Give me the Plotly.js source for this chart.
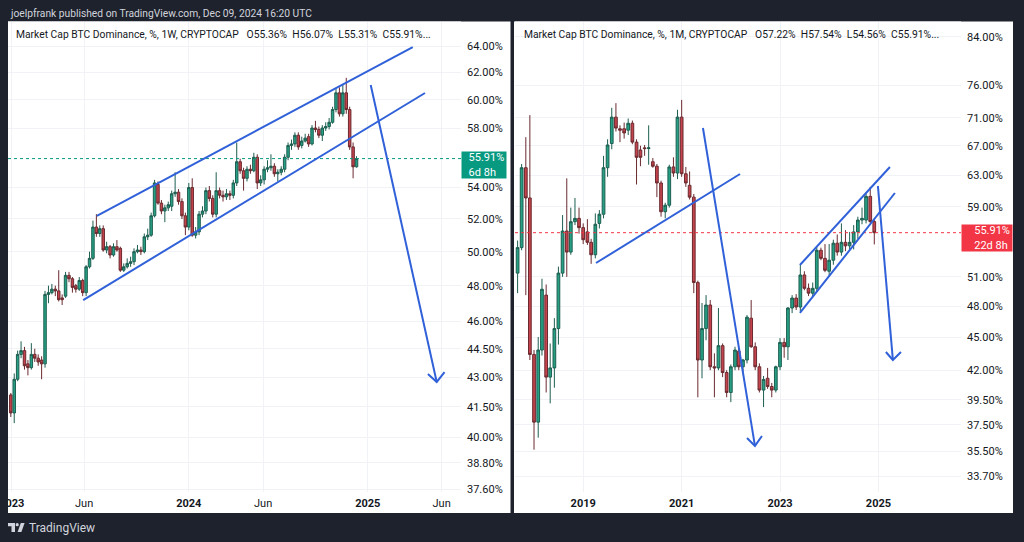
<!DOCTYPE html>
<html><head><meta charset="utf-8">
<script src="https://cdn.plot.ly/plotly-3.0.1.min.js"></script>
<style>html,body{margin:0;padding:0;background:#1e222d;overflow:hidden}#chart{width:1024px;height:542px}</style>
</head><body><div id="chart"></div>
<script>
// ================= DATA =================
// Weekly candles, BTC dominance %, first week starting 2023-01-02
const weeklyStart = '2023-01-02';
const weeklyOpen = [42.1,41.2,42.9,44.2,44.4,43.7,43.5,44.2,44.0,43.9, 43.7,47.5,47.6,47.8,47.7,47.3,47.4,48.6,48.4,48.0, 47.8,48.3,47.6,49.1,49.6,51.5,51.1,51.4,50.1,50.3, 49.8,50.3,50.2,48.9,49.1,49.3,49.4,50.0,50.1,50.0, 50.9,51.0,52.2,54.2,53.0,52.5,52.7,52.8,53.6,53.7, 53.1,52.2,51.5,54.0,51.0,51.2,52.3,52.5,53.8,53.3, 52.3,53.8,53.5,53.4,53.6,53.5,54.3,55.7,55.1,54.6, 55.2,55.1,56.0,54.3,54.5,55.2,55.3,55.4,54.9,55.0, 55.2,56.0,56.8,56.9,57.5,56.8,57.1,57.4,56.9,58.0, 57.9,57.5,58.0,58.1,58.4,59.3,60.5,59.0,60.5,59.3, 56.7,55.36];
const weeklyHigh = [42.2,43.2,44.4,44.9,44.6,43.9,44.8,44.5,44.2,44.1, 47.7,48.0,48.1,48.0,48.9,47.5,48.8,48.8,48.5,48.1, 48.5,48.4,49.2,50.0,51.9,52.3,51.6,51.6,50.6,50.4, 50.5,50.7,50.3,49.3,49.6,49.7,50.2,50.4,50.3,51.1, 51.4,52.4,54.5,54.4,53.2,52.9,53.1,53.8,55.0,53.9, 53.3,52.4,54.3,54.6,51.5,52.5,52.8,54.0,54.1,53.5, 55.0,54.0,53.8,53.9,53.8,54.5,57.0,55.9,55.3,55.4, 55.5,56.3,56.2,54.8,55.4,55.8,56.2,55.6,55.2,55.4, 56.2,57.0,57.2,57.7,57.7,57.4,57.6,57.6,58.2,58.5, 58.1,58.2,58.4,58.7,59.5,60.8,60.9,61.1,61.6,59.5, 57.0,56.07];
const weeklyLow = [41.0,40.7,42.8,44.0,43.4,43.1,43.4,43.8,43.6,42.9, 43.5,47.0,47.5,47.4,47.1,46.9,47.3,48.2,47.6,47.6, 47.7,47.4,47.4,49.0,49.5,50.9,50.9,50.0,49.9,49.6, 49.7,50.0,48.8,48.8,49.0,49.1,49.2,49.9,49.8,49.9, 50.7,50.9,52.1,52.9,52.3,51.8,52.5,52.5,53.4,52.9, 52.0,51.0,51.3,50.9,50.8,51.0,52.1,52.3,53.1,52.1, 52.1,53.3,53.1,53.2,53.2,53.3,54.1,54.9,53.8,54.4, 54.9,55.0,53.9,54.1,54.2,55.0,55.1,54.7,54.4,54.8, 55.0,55.8,56.5,56.7,56.5,56.6,57.0,56.7,56.8,57.7, 57.3,57.1,57.8,57.9,58.3,59.1,58.8,58.8,59.0,56.5, 54.6,55.31];
const weeklyClose = [41.2,42.9,44.2,44.4,43.6,43.5,44.2,44.0,43.8,43.7, 47.5,47.6,47.8,47.7,47.2,47.2,48.6,48.4,47.9,47.8, 48.3,47.6,49.1,49.6,51.5,51.1,51.4,50.1,50.3,49.8, 50.3,50.1,48.9,49.1,49.3,49.4,50.0,50.1,50.0,50.9, 51.0,52.2,54.3,53.0,52.5,52.7,52.9,53.6,53.7,53.1, 52.2,51.5,54.0,51.0,51.2,52.3,52.5,53.8,53.3,52.3, 53.8,53.5,53.4,53.6,53.5,54.3,55.7,55.1,54.6,55.2, 55.1,56.0,54.3,54.5,55.2,55.3,55.4,54.9,55.0,55.2, 56.0,56.8,56.9,57.5,56.7,57.1,57.3,56.9,58.0,57.9, 57.5,58.0,58.1,58.4,59.3,60.5,59.0,60.5,59.3,56.7, 55.36,55.91];

// Monthly candles, first month 2017-09
const monthlyStart = '2017-09';
const monthlyOpen = [51.4,54.2,64.0,60.1, 43.4,37.7,43.8,49.1,41.4,42.2,45.8,51.4,56.1,53.7,57.2,57.6, 56.5,56.0,54.8,53.4,57.0,58.1,64.0,67.3,71.1,69.4,69.4,69.2, 70.2,67.5,66.4,66.7,66.6,64.8,64.2,62.0,58.4,59.2,64.1,63.3, 71.1,63.2,61.7,60.2,50.4,42.9,45.8,48.1,42.3,42.2,44.2,41.8, 40.1,42.3,43.7,42.3,42.9,46.8,44.1,42.3,40.3,41.3,40.6,40.3, 42.3,44.5,44.1,47.8,48.8,47.9,51.2,49.8,49.3,49.8,53.9,53.0, 51.6,52.8,54.7,53.7,54.8,54.4,54.8,56.0,57.4,57.4,60.3,57.22];
const monthlyHigh = [55.0,64.5,68.2,71.4, 43.8,45.0,50.8,50.2,44.4,46.8,52.1,58.0,62.6,58.9,60.1,58.9, 57.0,57.5,55.2,58.2,58.6,65.6,67.9,72.5,73.2,69.9,70.3,70.9, 70.6,67.9,67.0,67.1,69.9,65.3,64.5,62.3,59.5,64.4,65.4,72.2, 73.7,64.1,63.5,60.6,50.6,48.3,49.1,48.6,43.5,47.8,44.4,42.0, 42.5,44.1,44.0,43.0,47.1,48.6,44.5,42.6,41.5,42.2,40.9,42.4, 44.9,44.9,47.9,49.1,49.2,52.3,51.6,50.3,50.4,54.3,54.2,54.6, 54.6,55.1,55.7,57.0,56.2,56.0,56.8,57.8,58.9,60.7,61.5,57.54];
const monthlyLow = [49.3,53.9,49.1,42.9, 35.6,36.5,43.3,40.1,39.2,40.5,44.3,51.0,51.0,53.4,56.8,55.8, 54.6,54.5,52.4,53.0,56.4,57.6,62.8,66.5,69.0,67.5,68.0,68.5, 67.2,61.8,64.2,65.6,64.4,64.0,60.2,57.8,57.6,58.9,62.8,62.5, 62.8,61.5,59.9,49.3,39.7,41.3,44.7,42.0,39.7,42.0,41.4,39.7, 39.3,42.0,42.0,41.8,42.6,44.0,42.0,40.1,38.9,40.4,39.7,40.1, 42.0,43.1,42.9,47.3,47.6,47.5,49.6,49.0,49.0,49.5,52.8,51.5, 51.0,52.3,53.3,53.3,53.8,53.9,54.0,55.2,56.9,57.0,57.0,54.56];
const monthlyClose = [54.2,64.0,60.1,43.4, 37.7,43.8,49.7,41.4,42.2,45.8,51.4,56.1,53.7,57.2,57.6,56.5, 55.1,54.8,53.4,56.9,58.1,64.0,67.1,71.1,69.5,69.2,68.8,70.2, 67.5,65.4,65.4,66.6,66.7,64.2,62.0,58.4,59.2,64.1,63.3,71.1, 63.2,62.0,60.2,50.4,42.9,45.8,48.1,42.3,42.2,44.2,41.8,40.1, 42.3,43.8,42.3,42.9,46.9,44.1,42.3,40.3,41.2,40.6,40.3,42.3, 44.5,44.1,47.8,48.8,47.9,51.2,49.8,49.3,49.8,53.9,53.0,51.7, 52.8,54.7,53.7,54.8,54.4,54.8,56.0,57.4,57.6,60.3,57.22,55.91];

// Axis ticks
const leftPriceTicks = [64,62,60,58,54,52,50,48,46,44.5,43,41.5,40,38.8,37.6];
const rightPriceTicks = [84,76,71,67,63,59,51,48,45,42,39.5,37.5,35.5,33.7];
const leftTimeTicks = ['2023-01-04','2023-06-01','2024-01-01','2024-06-01','2025-01-01','2025-06-01'];
const leftTimeLabels = ['2023','Jun','2024','Jun','2025','Jun'];
const rightTimeTicks = ['2019-01-01','2021-01-01','2023-01-01','2025-01-01'];
const rightTimeLabels = ['2019','2021','2023','2025'];
const leftCountdown = '6d 8h';
const rightCountdown = '22d 8h';

// Hand-drawn trend lines / arrows (date, value)
const leftChannelTopX = ['2023-06-27','2025-04-03'], leftChannelTopY = [52.19,63.92];
const leftChannelBotX = ['2023-05-30','2025-04-28'], leftChannelBotY = [47.18,60.49];
const leftArrowX = ['2025-01-07','2025-05-22'], leftArrowY = [61.07,42.76];
const leftHeadX = ['2025-05-04','2025-05-22','2025-06-07'], leftHeadY = [43.17,42.76,43.27];
const rightSupportX = ['2019-04-06','2022-03-10'], rightSupportY = [52.49,63.17];
const rightArrow1X = ['2021-06-08','2022-06-29'], rightArrow1Y = [69.51,35.88];
const rightHead1X = ['2022-05-01','2022-06-29','2022-08-20'], rightHead1Y = [36.48,35.88,36.63];
const rightChannelTopX = ['2023-05-29','2025-03-27'], rightChannelTopY = [52.28,64.09];
const rightChannelBotX = ['2023-05-29','2025-05-03'], rightChannelBotY = [47.31,60.72];
const rightArrow2X = ['2024-12-28','2025-04-18'], rightArrow2Y = [61.61,42.90];
const rightHead2X = ['2025-02-25','2025-04-18','2025-06-17'], rightHead2Y = [43.62,42.90,43.62];

// ================= BUILD =================
const W = 1024, H = 542, DAY = 864e5;
const BG = '#1e222d', GRID = '#f0f2f6', TXT = '#131722', BLUE = '#3061d9';
const FONT = 'Roboto, "Liberation Sans", Arial, sans-serif';
const px = x => x / W, py = y => 1 - y / H;

function weeklyDates(start, n) {
  const t0 = Date.parse(start + 'T00:00:00Z'), out = [];
  for (let i = 0; i < n; i++) out.push(new Date(t0 + i * 7 * DAY).toISOString().slice(0, 10));
  return out;
}
function monthlyDates(start, n) {
  const [y, m] = start.split('-').map(Number), out = [];
  for (let i = 0; i < n; i++) {
    const mm = m - 1 + i, yy = y + Math.floor(mm / 12), mo = mm % 12 + 1;
    out.push(yy + '-' + String(mo).padStart(2, '0') + '-01');
  }
  return out;
}
const dstr = ms => new Date(ms).toISOString().replace('T', ' ').slice(0, 19);

const wDates = weeklyDates(weeklyStart, weeklyClose.length);
const mDates = monthlyDates(monthlyStart, monthlyClose.length);

// pixel layout of the two panes
const L_X0 = 8, L_X1 = 461, R_X0 = 515, R_X1 = 961, Y_TOP = 21.5, Y_BOT = 492;
const L_ANCHOR = Date.UTC(2024, 0, 1), L_APX = 188.8, L_PPD = 0.489;
const R_ANCHOR = Date.UTC(2019, 0, 1), R_APX = 583.2, R_PPD = 0.1347;
const leftRange = [dstr(L_ANCHOR - (L_APX - L_X0) / L_PPD * DAY), dstr(L_ANCHOR + (L_X1 - L_APX) / L_PPD * DAY)];
const rightRange = [dstr(R_ANCHOR - (R_APX - R_X0) / R_PPD * DAY), dstr(R_ANCHOR + (R_X1 - R_APX) / R_PPD * DAY)];

const candleStyle = {
  increasing: { line: { color: '#1d5e50', width: 1 }, fillcolor: '#26a085' },
  decreasing: { line: { color: '#6a2a2f', width: 1 }, fillcolor: '#c4434c' },
  whiskerwidth: 0, hoverinfo: 'skip'
};
const lineTrace = (x, y, xa, ya) => ({ type: 'scatter', mode: 'lines', x, y, xaxis: xa, yaxis: ya,
  line: { color: BLUE, width: 2 }, hoverinfo: 'skip' });

const wLast = weeklyClose.length - 1, mLast = monthlyClose.length - 1;
const data = [
  Object.assign({ type: 'candlestick', x: wDates, open: weeklyOpen, high: weeklyHigh, low: weeklyLow, close: weeklyClose, xaxis: 'x', yaxis: 'y' }, candleStyle),
  Object.assign({ type: 'candlestick', x: mDates, open: monthlyOpen, high: monthlyHigh, low: monthlyLow, close: monthlyClose, xaxis: 'x2', yaxis: 'y2' }, candleStyle),
  { type: 'scatter', mode: 'lines', x: leftRange, y: [weeklyClose[wLast], weeklyClose[wLast]], xaxis: 'x', yaxis: 'y', line: { color: '#089981', width: 1, dash: 'dot' }, hoverinfo: 'skip' },
  { type: 'scatter', mode: 'lines', x: rightRange, y: [monthlyClose[mLast], monthlyClose[mLast]], xaxis: 'x2', yaxis: 'y2', line: { color: '#f23645', width: 1, dash: 'dot' }, hoverinfo: 'skip' },
  lineTrace(leftChannelTopX, leftChannelTopY, 'x', 'y'),
  lineTrace(leftChannelBotX, leftChannelBotY, 'x', 'y'),
  lineTrace(leftArrowX, leftArrowY, 'x', 'y'),
  lineTrace(leftHeadX, leftHeadY, 'x', 'y'),
  lineTrace(rightSupportX, rightSupportY, 'x2', 'y2'),
  lineTrace(rightArrow1X, rightArrow1Y, 'x2', 'y2'),
  lineTrace(rightHead1X, rightHead1Y, 'x2', 'y2'),
  lineTrace(rightChannelTopX, rightChannelTopY, 'x2', 'y2'),
  lineTrace(rightChannelBotX, rightChannelBotY, 'x2', 'y2'),
  lineTrace(rightArrow2X, rightArrow2Y, 'x2', 'y2'),
  lineTrace(rightHead2X, rightHead2Y, 'x2', 'y2')
];

const axFont = { family: FONT, size: 11, color: TXT };
const bold = s => (/^\d{4}$/.test(s) ? '<b>' + s + '</b>' : s);
const pct = v => v.toFixed(2) + '%';
const xBase = { type: 'date', rangeslider: { visible: false }, tickmode: 'array', showgrid: true, gridcolor: GRID,
  zeroline: false, showline: false, ticks: '', tickfont: axFont, ticklabelstandoff: 3, ticklabeloverflow: 'allow', fixedrange: true };
const yBase = { type: 'log', side: 'right', tickmode: 'array', showgrid: true, gridcolor: GRID, zeroline: false,
  showline: false, ticks: '', tickfont: axFont, ticklabelstandoff: 5, fixedrange: true };

const legendText = (tf, o, h, l, c) =>
  'Market Cap BTC Dominance, %, ' + tf + ', CRYPTOCAP\u2002 O' + pct(o) + '\u2002H' + pct(h) + '\u2002L' + pct(l) + '\u2002C' + pct(c) + '...';

const logoT = `M ${px(8)} ${py(523)} L ${px(15)} ${py(523)} L ${px(15)} ${py(532)} L ${px(11.5)} ${py(532)} L ${px(11.5)} ${py(526.2)} L ${px(8)} ${py(526.2)} Z`;
const logoS = `M ${px(17.6)} ${py(532)} L ${px(20.8)} ${py(523)} L ${px(24.6)} ${py(523)} L ${px(21.4)} ${py(532)} Z`;

const layout = {
  width: W, height: H, margin: { l: 0, r: 0, t: 0, b: 0, pad: 0 },
  paper_bgcolor: BG, plot_bgcolor: '#ffffff', showlegend: false,
  font: { family: FONT, size: 11, color: TXT },
  boxgap: 0.28, boxgroupgap: 0,
  xaxis: Object.assign({}, xBase, { domain: [px(L_X0), px(L_X1)], anchor: 'y', range: leftRange, tickvals: leftTimeTicks, ticktext: leftTimeLabels.map(bold) }),
  yaxis: Object.assign({}, yBase, { domain: [py(Y_BOT), py(Y_TOP)], anchor: 'x', range: [Math.log10(37.47), Math.log10(65.91)], tickvals: leftPriceTicks, ticktext: leftPriceTicks.map(pct) }),
  xaxis2: Object.assign({}, xBase, { domain: [px(R_X0), px(R_X1)], anchor: 'y2', range: rightRange, tickvals: rightTimeTicks, ticktext: rightTimeLabels.map(bold) }),
  yaxis2: Object.assign({}, yBase, { domain: [py(Y_BOT), py(Y_TOP)], anchor: 'x2', range: [Math.log10(32.60), Math.log10(86.75)], tickvals: rightPriceTicks, ticktext: rightPriceTicks.map(pct) }),
  shapes: [
    { type: 'rect', xref: 'paper', yref: 'paper', x0: px(8), x1: px(510.5), y0: py(513), y1: py(21.5), fillcolor: '#ffffff', line: { width: 0 }, layer: 'below' },
    { type: 'rect', xref: 'paper', yref: 'paper', x0: px(514), x1: px(1013), y0: py(513), y1: py(21.5), fillcolor: '#ffffff', line: { width: 0 }, layer: 'below' },
    { type: 'rect', xref: 'paper', yref: 'paper', x0: 0, x1: px(8), y0: py(513), y1: py(480), fillcolor: BG, line: { width: 0 }, layer: 'above' },
    { type: 'path', xref: 'paper', yref: 'paper', path: logoT, fillcolor: '#d1d4dc', line: { width: 0 }, layer: 'above' },
    { type: 'path', xref: 'paper', yref: 'paper', path: logoS, fillcolor: '#d1d4dc', line: { width: 0 }, layer: 'above' },
    { type: 'circle', xref: 'paper', yref: 'paper', x0: px(15.6), x1: px(18.8), y0: py(526.3), y1: py(523.1), fillcolor: '#d1d4dc', line: { width: 0 }, layer: 'above' }
  ],
  annotations: [
    { xref: 'paper', yref: 'paper', x: px(8), y: py(13), xanchor: 'left', yanchor: 'middle', showarrow: false,
      text: 'joelpfrank published on TradingView.com, Dec 09, 2024 16:20 UTC', font: { family: FONT, size: 10.25, color: '#d1d4dc' } },
    { xref: 'paper', yref: 'paper', x: px(14), y: py(34), xanchor: 'left', yanchor: 'middle', showarrow: false,
      text: legendText('1W', weeklyOpen[wLast], weeklyHigh[wLast], weeklyLow[wLast], weeklyClose[wLast]), font: { family: FONT, size: 10.3, color: TXT } },
    { xref: 'paper', yref: 'paper', x: px(522), y: py(34), xanchor: 'left', yanchor: 'middle', showarrow: false,
      text: legendText('1M', monthlyOpen[mLast], monthlyHigh[mLast], monthlyLow[mLast], monthlyClose[mLast]), font: { family: FONT, size: 10.3, color: TXT } },
    { xref: 'x domain', yref: 'y', x: 1, y: Math.log10(weeklyClose[wLast]), xanchor: 'left', yanchor: 'top', yshift: 8, showarrow: false,
      text: '\u2002' + pct(weeklyClose[wLast]) + '<br>\u2002' + leftCountdown, align: 'left', width: 42, height: 24, borderpad: 1,
      bgcolor: '#089981', font: { family: FONT, size: 11, color: '#ffffff' } },
    { xref: 'x2 domain', yref: 'y2', x: 1, y: Math.log10(monthlyClose[mLast]), xanchor: 'left', yanchor: 'top', yshift: 8.5, showarrow: false,
      text: '\u2002\u2002' + pct(monthlyClose[mLast]) + '<br>\u2002\u2002' + rightCountdown, align: 'left', width: 48, height: 24, borderpad: 1,
      bgcolor: '#f23645', font: { family: FONT, size: 11, color: '#ffffff' } },
    { xref: 'paper', yref: 'paper', x: px(27), y: py(527.5), xanchor: 'left', yanchor: 'middle', showarrow: false,
      text: 'TradingView', font: { family: FONT, size: 12, color: '#d1d4dc' } }
  ]
};

Plotly.newPlot('chart', data, layout, { staticPlot: true, displayModeBar: false });
</script>
</body></html>
